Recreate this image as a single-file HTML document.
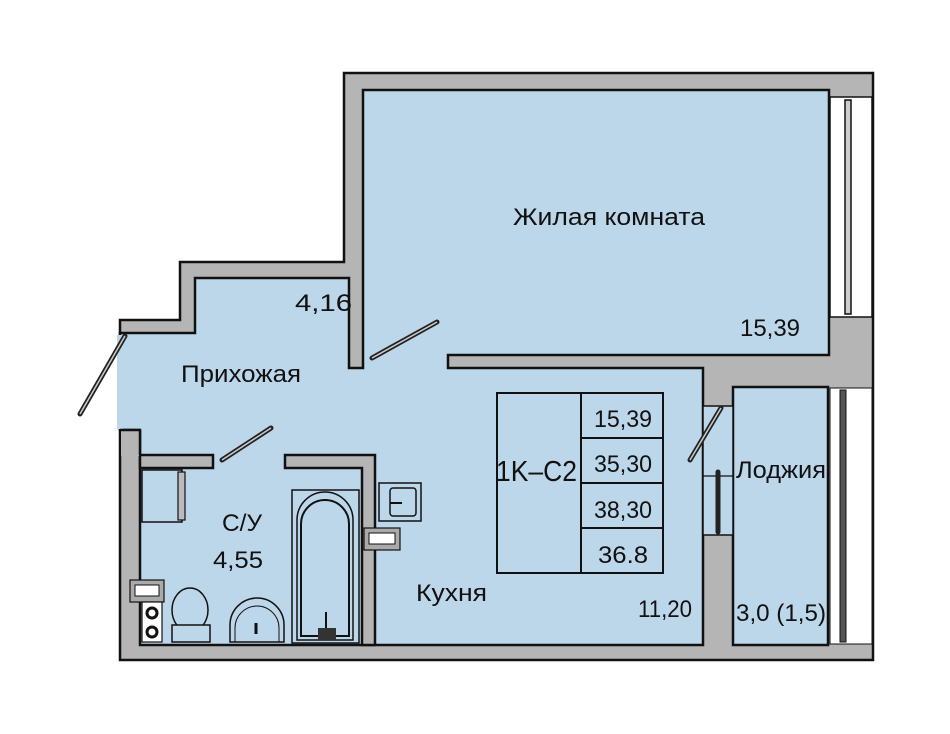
<!DOCTYPE html>
<html><head><meta charset="utf-8"><style>
html,body{margin:0;padding:0;background:#fff;}
svg{display:block}
text{font-family:"Liberation Sans","DejaVu Sans",sans-serif;fill:#111;}
</style></head><body>
<svg width="950" height="734" viewBox="0 0 950 734" xmlns="http://www.w3.org/2000/svg">
<rect width="950" height="734" fill="#fff"/>
<polygon points="120,320 180,320 180,262 344,262 344,73 873,73 873,660 120,660" fill="#b5b5b5" stroke="#111" stroke-width="2.5"/>
<polygon points="120,333 195,333 195,278 349,278 349,368 363,368 363,90 829,90 829,355 448,355 448,368 703,368 703,645 140,645 140,430 120,430" fill="#bdd7ea" stroke="#111" stroke-width="2.5"/>
<rect x="117" y="335" width="6" height="94" fill="#bdd7ea"/>
<polygon points="285,455 375,455 375,645 362,645 362,468 285,468" fill="#b5b5b5" stroke="#111" stroke-width="2.5"/>
<rect x="140" y="455" width="73" height="13" fill="#b5b5b5" stroke="#111" stroke-width="2.5"/>
<rect x="121" y="431" width="18" height="25" fill="#b5b5b5"/>
<line x1="120" y1="430" x2="140" y2="430" stroke="#111" stroke-width="2.5"/>
<line x1="140" y1="430" x2="140" y2="455" stroke="#111" stroke-width="2.5"/>
<rect x="733" y="387" width="95" height="258" fill="#bdd7ea" stroke="#111" stroke-width="2.5"/>
<rect x="703" y="406" width="30" height="129" fill="#bdd7ea" stroke="#111" stroke-width="1.5"/>
<line x1="703" y1="476" x2="733" y2="476" stroke="#111" stroke-width="1.2"/>
<rect x="830" y="97" width="42" height="220" fill="#fff" stroke="#111" stroke-width="1.5"/>
<rect x="845" y="100" width="6" height="214" fill="#ccc" stroke="#111" stroke-width="1.5"/>
<rect x="830" y="388" width="42" height="256" fill="#fff" stroke="#111" stroke-width="1"/>
<rect x="840" y="390" width="6" height="252" fill="#555" stroke="#111" stroke-width="1"/>
<g stroke="#222" stroke-width="5" stroke-linecap="round">
<line x1="125" y1="336" x2="80" y2="414"/>
<line x1="372" y1="358" x2="437" y2="322"/>
<line x1="222" y1="460" x2="271" y2="428"/>
<line x1="690" y1="460" x2="721" y2="408"/>
<line x1="718" y1="472" x2="718" y2="532"/>
</g>
<g stroke="#ccc" stroke-width="1.5">
<line x1="125" y1="336" x2="80" y2="414"/>
<line x1="372" y1="358" x2="437" y2="322"/>
<line x1="222" y1="460" x2="271" y2="428"/>
<line x1="690" y1="460" x2="721" y2="408"/>
</g>
<rect x="142" y="470" width="40" height="52" fill="none" stroke="#111" stroke-width="1.5"/>
<rect x="178" y="472" width="7" height="48" fill="#bbb" stroke="#111" stroke-width="1.2"/>
<rect x="292" y="490" width="67" height="153" fill="none" stroke="#111" stroke-width="1.5"/>
<path d="M297,640 V520 A28,28 0 0 1 353,520 V640 Z" fill="none" stroke="#111" stroke-width="1.5"/>
<path d="M301,636 V524 A24,24 0 0 1 349,524 V636 Z" fill="none" stroke="#111" stroke-width="2"/>
<rect x="318" y="628" width="18" height="12" fill="#333"/>
<line x1="326" y1="612" x2="326" y2="628" stroke="#111" stroke-width="2"/>
<ellipse cx="190" cy="610" rx="18" ry="22" fill="none" stroke="#111" stroke-width="1.5"/>
<rect x="172" y="625" width="38" height="17" fill="#bdd7ea" stroke="#111" stroke-width="1.5"/>
<path d="M230,642 V625 A27,27 0 0 1 284,625 V642 Z" fill="none" stroke="#111" stroke-width="1.5"/>
<path d="M235,642 V628 A22,22 0 0 1 279,628 V642" fill="none" stroke="#111" stroke-width="1"/>
<line x1="256" y1="623" x2="256" y2="634" stroke="#111" stroke-width="3"/>
<rect x="130" y="580" width="34" height="22" fill="#aaa" stroke="#111" stroke-width="1.2"/>
<rect x="135" y="585" width="24" height="11" fill="#fff" stroke="#111" stroke-width="1"/>
<rect x="142" y="602" width="20" height="40" fill="#fff" stroke="#111" stroke-width="1.2"/>
<circle cx="152" cy="613" r="5" fill="#fff" stroke="#111" stroke-width="3"/>
<circle cx="152" cy="632" r="5" fill="#fff" stroke="#111" stroke-width="3"/>
<rect x="379" y="483" width="42" height="38" fill="#bdd7ea" stroke="#111" stroke-width="1.5"/>
<rect x="390" y="488" width="26" height="28" rx="3" fill="none" stroke="#111" stroke-width="1.5"/>
<line x1="390" y1="503" x2="402" y2="503" stroke="#111" stroke-width="2"/>
<rect x="364" y="528" width="36" height="22" fill="#aaa" stroke="#111" stroke-width="1.2"/>
<rect x="369" y="533" width="26" height="11" fill="#fff" stroke="#111" stroke-width="1"/>
<rect x="497" y="393" width="166" height="180" fill="none" stroke="#111" stroke-width="2"/>
<line x1="581" y1="393" x2="581" y2="573" stroke="#111" stroke-width="2"/>
<line x1="581" y1="438" x2="663" y2="438" stroke="#111" stroke-width="2"/>
<line x1="581" y1="483" x2="663" y2="483" stroke="#111" stroke-width="2"/>
<line x1="581" y1="528" x2="663" y2="528" stroke="#111" stroke-width="2"/>
<g font-size="24">
<text x="513" y="225" textLength="192" lengthAdjust="spacingAndGlyphs">Жилая комната</text>
<text x="740" y="336" textLength="60" lengthAdjust="spacingAndGlyphs">15,39</text>
<text x="295" y="311" textLength="57" lengthAdjust="spacingAndGlyphs">4,16</text>
<text x="181" y="382" textLength="120" lengthAdjust="spacingAndGlyphs">Прихожая</text>
<text x="222" y="531" textLength="40" lengthAdjust="spacingAndGlyphs">С/У</text>
<text x="213" y="568" textLength="50" lengthAdjust="spacingAndGlyphs">4,55</text>
<text x="416" y="601" textLength="71" lengthAdjust="spacingAndGlyphs">Кухня</text>
<text x="638" y="617" textLength="54" lengthAdjust="spacingAndGlyphs">11,20</text>
<text x="736" y="478" textLength="90" lengthAdjust="spacingAndGlyphs">Лоджия</text>
<text x="736" y="621" textLength="90" lengthAdjust="spacingAndGlyphs">3,0 (1,5)</text>
<text x="594" y="427" textLength="58" lengthAdjust="spacingAndGlyphs">15,39</text>
<text x="594" y="472" textLength="58" lengthAdjust="spacingAndGlyphs">35,30</text>
<text x="594" y="518" textLength="58" lengthAdjust="spacingAndGlyphs">38,30</text>
<text x="598" y="563" textLength="50" lengthAdjust="spacingAndGlyphs">36.8</text>
</g>
<text x="496" y="481" font-size="29" textLength="81" lengthAdjust="spacingAndGlyphs">1K–C2</text>
</svg>
</body></html>
